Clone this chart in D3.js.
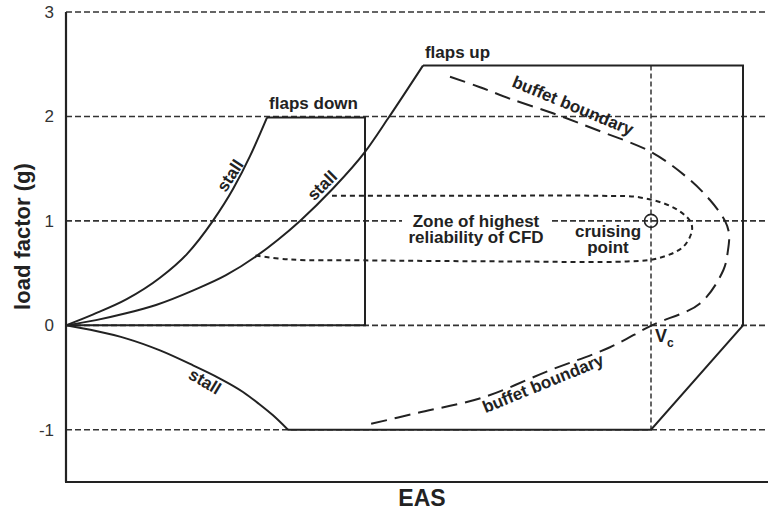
<!DOCTYPE html>
<html>
<head>
<meta charset="utf-8">
<script src="https://cdn.jsdelivr.net/npm/d3@7"></script>
<style>
  html, body { margin: 0; padding: 0; background: #fff; }
  svg { display: block; font-family: "Liberation Sans", Arial, Helvetica, sans-serif; }
</style>
</head>
<body>
<svg id="chart" width="768" height="515"></svg>
<script>
// ---------- data (EAS in arbitrary units, load factor in g) ----------
const yTicks = [-1, 0, 1, 2, 3];
const yTickLabels = ["-1", "0", "1", "2", "3"];

const flapsDownStall = [[0,0],[13.65,0.105],[30.35,0.25],[47,0.455],[60.35,0.68],[73.35,0.998],[83.65,1.31],[92,1.62],[100.5,1.99]];
const flapsDownBox = [[100.5,1.99],[149.5,1.99],[149.5,0],[0,0]];

const flapsUpStall = [[0,0],[15,0.05],[30,0.115],[45,0.195],[63.65,0.335],[80,0.48],[95.35,0.665],[106,0.82],
  [117,1.0],[133,1.3],[149.5,1.66],[161,1.98],[178.5,2.488]];
const flapsUpEnvelope = [[178.5,2.488],[338.5,2.488],[338.5,0],[292.5,-1],[111,-1]];

const negativeStall = [[0,0],[15,-0.055],[30.35,-0.127],[47,-0.24],[63.5,-0.383],[76,-0.5],[88.5,-0.638],[96,-0.745],[103.5,-0.862],[111,-1]];

const buffetBoundary = [[192,2.38],[207,2.28],[222,2.17],[243.5,2.03],[265.5,1.87],[292.5,1.66],[310.3,1.42],
  [322,1.2],[329.5,1.0],[331.5,0.88],[331,0.72],[328.7,0.53],[317,0.21],[292.9,0],[272,-0.21],[242,-0.43],
  [208.5,-0.69],[175.4,-0.84],[151,-0.95]];

const cfdZone = [[133,1.24],[200,1.24],[267,1.24],[287,1.225],[303.5,1.13],[312,1.0],[313,0.91],[308.5,0.75],
  [295.5,0.64],[280.5,0.612],[220,0.612],[149.5,0.622],[112,0.63],[94.5,0.67]];

const Vc = 292.5;
const vcRange = [2.488, -1];
const cruisingPoint = [292.5, 1];

// ---------- layout ----------
const svg = d3.select("#chart");
const W = 768, H = 515;
const x = d3.scaleLinear().domain([0, 351]).range([66, 768]);
const y = d3.scaleLinear().domain([-1.5, 3]).range([482, 12]);
const ink = "#222";

svg.append("rect").attr("width", W).attr("height", H).attr("fill", "#fff");

// grid lines
const grid = svg.append("g");
grid.selectAll("line").data(yTicks).join("line")
  .attr("x1", x(0)).attr("x2", W)
  .attr("y1", d => y(d)).attr("y2", d => y(d))
  .attr("stroke", "#333").attr("stroke-width", 1.6).attr("stroke-dasharray", "6,3");

// y axis (labels only)
const yAxis = d3.axisLeft(y).tickValues(yTicks).tickFormat((d, i) => yTickLabels[i]).tickSize(0).tickPadding(12);
const gy = svg.append("g").attr("transform", `translate(${x(0)},0)`).call(yAxis);
gy.select(".domain").remove();
gy.selectAll("text").attr("font-size", 17).attr("fill", "#333").attr("font-family", "inherit");

// axis lines
svg.append("line").attr("x1", x(0)).attr("x2", x(0)).attr("y1", y(3)).attr("y2", y(-1.5))
  .attr("stroke", ink).attr("stroke-width", 2.2);
svg.append("line").attr("x1", x(0) - 1).attr("x2", W).attr("y1", y(-1.5)).attr("y2", y(-1.5))
  .attr("stroke", ink).attr("stroke-width", 2.2);

// Vc dashed line
svg.append("line").attr("x1", x(Vc)).attr("x2", x(Vc)).attr("y1", y(vcRange[0])).attr("y2", y(vcRange[1]))
  .attr("stroke", "#333").attr("stroke-width", 1.5).attr("stroke-dasharray", "5,3");

const smooth = d3.line().x(d => x(d[0])).y(d => y(d[1])).curve(d3.curveCatmullRom.alpha(0.5));
const mono = d3.line().x(d => x(d[0])).y(d => y(d[1])).curve(d3.curveMonotoneX);
const straight = d3.line().x(d => x(d[0])).y(d => y(d[1]));

// CFD zone
svg.append("path").attr("d", smooth(cfdZone)).attr("fill", "none")
  .attr("stroke", "#222").attr("stroke-width", 2).attr("stroke-dasharray", "5,4");

// buffet boundary
svg.append("path").attr("d", smooth(buffetBoundary)).attr("fill", "none")
  .attr("stroke", "#222").attr("stroke-width", 2).attr("stroke-dasharray", "16,8");

// envelopes
[[flapsDownStall, mono], [flapsDownBox, straight], [flapsUpStall, mono], [flapsUpEnvelope, straight], [negativeStall, mono]]
  .forEach(([d, gen]) => {
    svg.append("path").attr("d", gen(d)).attr("fill", "none")
      .attr("stroke", ink).attr("stroke-width", 2).attr("stroke-linejoin", "miter");
  });

// cruising point
svg.append("circle").attr("cx", x(cruisingPoint[0])).attr("cy", y(cruisingPoint[1])).attr("r", 6.5)
  .attr("fill", "none").attr("stroke", ink).attr("stroke-width", 1.6);

// ---------- text ----------
function label(txt, vx, vy, opts = {}) {
  return svg.append("text")
    .attr("transform", `translate(${x(vx)},${y(vy)}) rotate(${opts.rot || 0})`)
    .attr("text-anchor", opts.anchor || "middle")
    .attr("font-size", opts.size || 17)
    .attr("font-weight", opts.weight || "bold")
    .attr("fill", ink)
    .text(txt);
}

label("flaps down", 123.75, 2.067);
label("flaps up", 195.75, 2.555);
label("stall", 82, 1.435, { rot: -57 }).attr("dy", "0.35em");
label("stall", 128, 1.34, { rot: -45 }).attr("dy", "0.35em");
label("stall", 69.5, -0.536, { rot: 31 }).attr("dy", "0.35em");
label("buffet boundary", 253.5, 2.105, { rot: 22.5 }).attr("dy", "0.35em");
label("buffet boundary", 238.5, -0.555, { rot: -22.3 }).attr("dy", "0.35em");

// zone text with white background
const zx = 205;
svg.append("rect").attr("x", x(zx) - 74).attr("y", y(1) - 9).attr("width", 148).attr("height", 18).attr("fill", "#fff");
label("Zone of highest", zx, 1).attr("dy", "0.36em");
label("reliability of CFD", zx, 1).attr("dy", "1.3em");

label("cruising", 271, 0.845);
label("point", 271, 0.69);

// Vc
const vt = svg.append("text").attr("x", x(Vc) + 4).attr("y", y(-0.16))
  .attr("font-size", 18).attr("font-weight", "bold").attr("fill", ink);
vt.append("tspan").text("V");
vt.append("tspan").attr("dy", 5).attr("font-size", 12).text("c");

// axis titles
svg.append("text").attr("transform", `translate(30,${y(0.85)}) rotate(-90)`)
  .attr("text-anchor", "middle").attr("font-size", 22).attr("font-weight", "bold").attr("fill", ink)
  .text("load factor (g)");
svg.append("text").attr("x", 422).attr("y", 506)
  .attr("text-anchor", "middle").attr("font-size", 23).attr("font-weight", "bold").attr("fill", ink)
  .text("EAS");
</script>
</body>
</html>
